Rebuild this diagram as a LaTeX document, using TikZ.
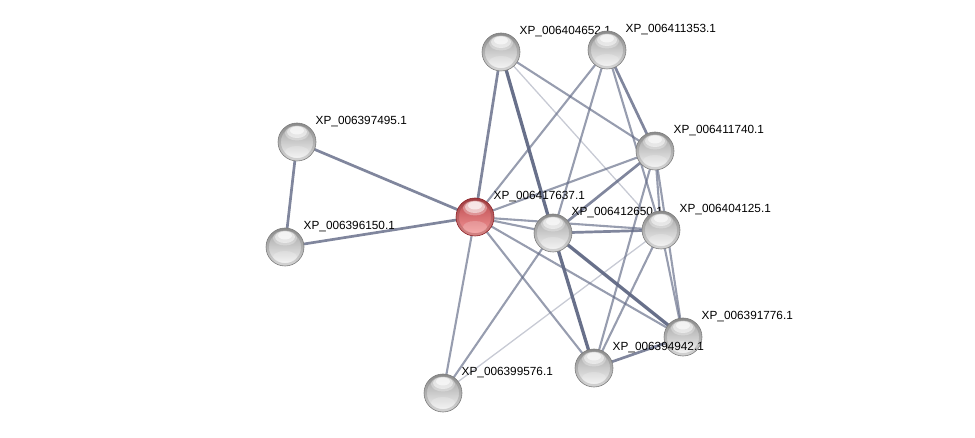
\documentclass[tikz,border=0pt]{standalone}
\usepackage{fontspec}
\setmainfont{Liberation Sans}
\pgfdeclarelayer{edges}
\pgfsetlayers{edges,main}
\definecolor{edgec}{RGB}{96,104,132}
\definecolor{gtop}{RGB}{160,160,160}
\definecolor{gbot}{RGB}{246,246,246}
\definecolor{grim}{RGB}{125,125,125}
\definecolor{rtop}{RGB}{185,70,75}
\definecolor{rbot}{RGB}{246,155,155}
\definecolor{rrim}{RGB}{140,35,40}
\tikzset{
  sphere/.style={circle, minimum size=38pt, inner sep=0pt, line width=0.6pt,
    path picture={
      \draw[black, opacity=0.13, line width=3pt] (path picture bounding box.center) circle (17.6pt);
      \fill[white, opacity=0.2] ([yshift=-10pt]path picture bounding box.center) ellipse (12pt and 6pt);
      \fill[white, opacity=0.3] ([yshift=9pt]path picture bounding box.center) ellipse (12pt and 7.5pt);
      \fill[white, opacity=0.5] ([yshift=10pt]path picture bounding box.center) ellipse (10pt and 6pt);
      \fill[white, opacity=0.6] ([yshift=11.5pt]path picture bounding box.center) ellipse (7pt and 4pt);
    }},
  prot/.style={sphere, top color=gtop, bottom color=gbot, draw=grim},
  query/.style={sphere, top color=rtop, bottom color=rbot, draw=rrim},
  lbl/.style={anchor=base west, font=\fontsize{11.8}{12}\selectfont, inner sep=0.5pt},
  e1/.style={draw=edgec, line width=1.3pt, opacity=0.35},
  e2/.style={draw=edgec, line width=2.1pt, opacity=0.65},
  e3/.style={draw=edgec, line width=2.7pt, opacity=0.8},
  e4/.style={draw=edgec, line width=3.3pt, opacity=0.95},
}
\begin{document}
\begin{tikzpicture}[x=1pt,y=-1pt]
\useasboundingbox (0,0) rectangle (975,438);
\node[prot] (D) at (297,142) {};
\node[lbl] (lD) at ([shift={(18,-17)}]D.center) {XP\_006397495.1};
\node[prot] (E) at (285,247) {};
\node[lbl] (lE) at ([shift={(18,-17)}]E.center) {XP\_006396150.1};
\node[query] (R) at (475,217) {};
\node[lbl] (lR) at ([shift={(18,-17)}]R.center) {XP\_006417637.1};
\node[prot] (A) at (501,52) {};
\node[lbl] (lA) at ([shift={(18,-17)}]A.center) {XP\_006404652.1};
\node[prot] (B) at (607,50) {};
\node[lbl] (lB) at ([shift={(18,-17)}]B.center) {XP\_006411353.1};
\node[prot] (C) at (655,151) {};
\node[lbl] (lC) at ([shift={(18,-17)}]C.center) {XP\_006411740.1};
\node[prot] (F) at (553,233) {};
\node[lbl] (lF) at ([shift={(18,-17)}]F.center) {XP\_006412650.1};
\node[prot] (G) at (661,230) {};
\node[lbl] (lG) at ([shift={(18,-17)}]G.center) {XP\_006404125.1};
\node[prot] (H) at (683,337) {};
\node[lbl] (lH) at ([shift={(18,-17)}]H.center) {XP\_006391776.1};
\node[prot] (I) at (594,368) {};
\node[lbl] (lI) at ([shift={(18,-17)}]I.center) {XP\_006394942.1};
\node[prot] (J) at (443,393) {};
\node[lbl] (lJ) at ([shift={(18,-17)}]J.center) {XP\_006399576.1};
\begin{pgfonlayer}{edges}
\draw[e3] (D.center) -- (E.center);
\draw[e3] (D.center) -- (R.center);
\draw[e3] (E.center) -- (R.center);
\draw[e3] (R.center) -- (A.center);
\draw[e2] (R.center) -- (B.center);
\draw[e2] (R.center) -- (C.center);
\draw[e2] (R.center) -- (F.center);
\draw[e2] (R.center) -- (G.center);
\draw[e2] (R.center) -- (H.center);
\draw[e2] (R.center) -- (I.center);
\draw[e2] (R.center) -- (J.center);
\draw[e4] (A.center) -- (F.center);
\draw[e2] (A.center) -- (C.center);
\draw[e1] (A.center) -- (G.center);
\draw[e2] (B.center) -- (F.center);
\draw[e3] (B.center) -- (C.center);
\draw[e2] (B.center) -- (G.center);
\draw[e3] (C.center) -- (F.center);
\draw[e2] (C.center) -- (G.center);
\draw[e2] (C.center) -- (H.center);
\draw[e2] (C.center) -- (I.center);
\draw[e3] (F.center) -- (G.center);
\draw[e4] (F.center) -- (H.center);
\draw[e4] (F.center) -- (I.center);
\draw[e2] (F.center) -- (J.center);
\draw[e2] (G.center) -- (H.center);
\draw[e2] (G.center) -- (I.center);
\draw[e1] (G.center) -- (J.center);
\draw[e3] (H.center) -- (I.center);
\end{pgfonlayer}
\end{tikzpicture}
\end{document}
